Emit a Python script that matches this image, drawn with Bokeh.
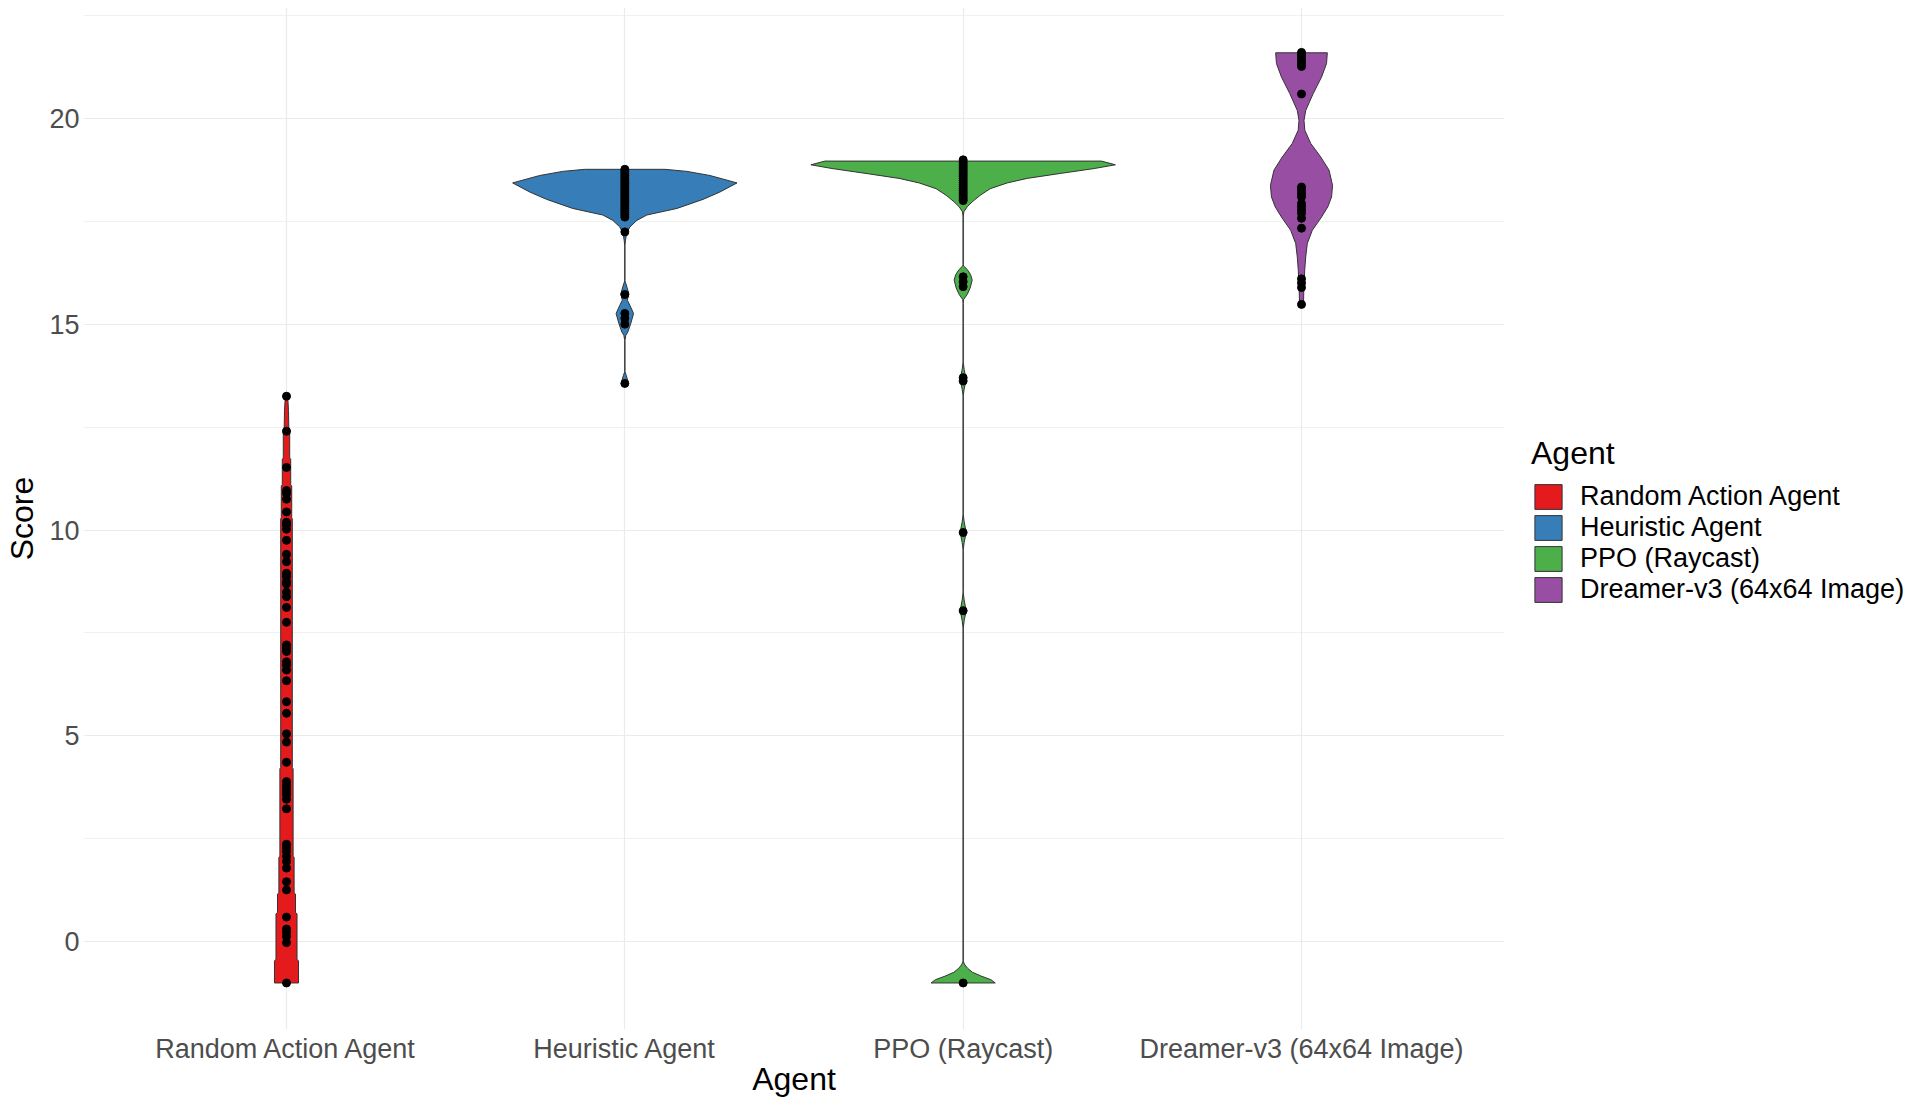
from bokeh.plotting import figure
from bokeh.models import FixedTicker, SingleIntervalTicker, Legend, LegendItem, Range1d
from bokeh.embed import file_html
from bokeh.resources import INLINE

agents = ["Random Action Agent", "Heuristic Agent", "PPO (Raycast)", "Dreamer-v3 (64x64 Image)"]
colors = ["#E41A1C", "#377EB8", "#4DAF4A", "#984EA3"]

# Violin outlines: score levels (top -> bottom) and relative density width
random_levels = [13.25, 12.90, 12.48, 12.45, 11.75, 11.72, 11.10, 11.07, 10.30, 10.27, 4.23, 4.20,
                 2.08, 2.05, 1.19, 1.16, 0.71, 0.68, -0.43, -0.46, -1.00]
random_density = [1.2, 2.0, 2.3, 3.2, 3.2, 4.2, 4.2, 5.2, 5.2, 5.8, 5.8, 6.6,
                  6.6, 7.6, 7.6, 9.0, 9.0, 10.5, 10.5, 12.0, 12.0]

heuristic_levels = [18.76, 18.71, 18.61, 18.43, 18.21, 18.03, 17.81, 17.65, 17.52, 17.36, 17.20, 17.04,
                    16.90, 16.05, 15.99, 15.74, 15.58, 15.46, 15.26, 15.02, 14.81, 14.73, 14.60,
                    13.85, 13.75, 13.62, 13.56]
heuristic_density = [40, 62, 85, 112, 95, 78, 52, 22, 12, 5, 1.7, 0.7,
                     0, 0, 1, 4, 2.5, 5, 8.7, 6, 3, 1, 0,
                     0, 1.5, 3, 3.5]

ppo_levels = [18.96, 18.87, 18.78, 18.66, 18.54, 18.43, 18.29, 18.13, 17.97, 17.85, 17.73, 17.60,
              16.45, 16.41, 16.33, 16.20, 16.07, 15.88, 15.72, 15.60, 15.50,
              14.10, 13.90, 13.66, 13.42, 13.25,
              10.40, 10.20, 9.94, 9.70, 9.50,
              8.50, 8.30, 8.04, 7.80, 7.60,
              -0.45, -0.49, -0.56, -0.64, -0.74, -0.83, -0.92, -1.00]
ppo_density = [138, 152, 131, 97, 64, 44, 27, 17, 9, 4, 0.7, 0,
               0, 0.5, 4, 7.5, 9, 7, 4, 0.5, 0,
               0, 1, 3, 1, 0,
               0, 1, 3, 1, 0,
               0, 1, 3, 1, 0,
               0, 0.3, 1.7, 4.3, 9.3, 17.7, 27.7, 32]

dreamer_levels = [21.59, 21.33, 21.00, 20.60, 20.19, 19.95, 19.71, 19.39, 19.06, 18.74, 18.37, 18.09,
                  17.85, 17.60, 17.28, 16.96, 16.63, 16.31, 15.83, 15.50, 15.46]
dreamer_density = [25.8, 25.0, 20.0, 11.7, 4.2, 2.5, 3.3, 9.2, 19.2, 27.5, 31.0, 30.0,
                   26.3, 20.0, 10.8, 5.8, 4.2, 3.2, 2.3, 2.0, 2.0]

# Individual scores (points)
random_scores = [13.25, 12.40, 11.52, 10.96, 10.89, 10.75, 10.44, 10.19, 10.12, 10.02, 9.75, 9.41,
                 9.23, 8.95, 8.87, 8.75, 8.69, 8.49, 8.38, 8.12, 7.76, 7.21, 7.13, 7.05, 6.80,
                 6.72, 6.60, 6.34, 5.83, 5.55, 5.05, 4.85, 4.36, 3.89, 3.81, 3.73, 3.65, 3.57,
                 3.46, 3.23, 2.37, 2.29, 2.19, 2.07, 1.95, 1.79, 1.46, 1.26, 0.60, 0.31, 0.23,
                 0.13, -0.02, -1.00]
heuristic_scores = [18.76, 18.71, 18.66, 18.61, 18.56, 18.51, 18.46, 18.41, 18.36, 18.31, 18.26,
                    18.21, 18.16, 18.11, 18.06, 18.01, 17.96, 17.91, 17.86, 17.81, 17.76, 17.71,
                    17.66, 17.60, 17.24, 15.72, 15.26, 15.14, 15.00, 13.56]
ppo_scores = [18.99, 18.94, 18.89, 18.84, 18.79, 18.74, 18.69, 18.64, 18.59, 18.54, 18.49, 18.44,
              18.39, 18.34, 18.29, 18.24, 18.19, 18.14, 18.09, 18.04, 18.00, 16.15, 16.03, 15.91,
              13.70, 13.62, 9.94, 8.04, -1.00]
dreamer_scores = [21.60, 21.55, 21.49, 21.41, 21.33, 21.26, 20.59, 18.33, 18.25, 18.17, 18.09,
                  17.93, 17.85, 17.77, 17.69, 17.57, 17.33, 16.10, 16.00, 15.89, 15.48]

levels_all = [random_levels, heuristic_levels, ppo_levels, dreamer_levels]
density_all = [random_density, heuristic_density, ppo_density, dreamer_density]
scores_all = [random_scores, heuristic_scores, ppo_scores, dreamer_scores]

FONT = "Liberation Sans"

p = figure(frame_width=1421, frame_height=1022, min_border_left=83, min_border_right=406,
           min_border_top=7, min_border_bottom=0,
           x_range=Range1d(0.4, 4.6), y_range=Range1d(-2.13, 22.69),
           output_backend="svg", toolbar_location=None)
p.outline_line_color = None
p.background_fill_color = "white"

# scale="area": widest violin spans 0.9 of a category
max_d = max(max(d) for d in density_all)
scale = 0.45 / max_d

renderers = []
for i, (lv, dn, col) in enumerate(zip(levels_all, density_all, colors)):
    c = i + 1
    xs = [c - d * scale for d in dn] + [c + d * scale for d in dn[::-1]]
    ys = list(lv) + list(lv[::-1])
    r = p.patch(xs, ys, fill_color=col, line_color="#333333", line_width=1)
    renderers.append(r)

for i, sc in enumerate(scores_all):
    p.scatter([i + 1] * len(sc), sc, size=8, color="black")

# axes
p.xaxis.ticker = FixedTicker(ticks=list(range(1, len(agents) + 1)))
p.xaxis.major_label_overrides = {i + 1: a for i, a in enumerate(agents)}
p.yaxis.ticker = SingleIntervalTicker(interval=5, num_minor_ticks=2)
for ax in (p.xaxis, p.yaxis):
    ax.axis_line_color = None
    ax.major_tick_line_color = None
    ax.minor_tick_line_color = None
    ax.major_tick_out = 0
    ax.minor_tick_out = 0
    ax.major_label_text_font = FONT
    ax.major_label_text_font_size = "27px"
    ax.major_label_text_color = "#4D4D4D"
    ax.axis_label_text_font = FONT
    ax.axis_label_text_font_size = "32px"
    ax.axis_label_text_font_style = "normal"
    ax.axis_label_text_color = "black"
p.xaxis.axis_label = "Agent"
p.yaxis.axis_label = "Score"
p.xaxis.major_label_standoff = 4
p.xaxis.axis_label_standoff = -6
p.yaxis.major_label_standoff = 4
p.yaxis.axis_label_standoff = 6

p.xgrid.grid_line_color = "#EBEBEB"
p.xgrid.grid_line_width = 1.2
p.ygrid.grid_line_color = "#EBEBEB"
p.ygrid.grid_line_width = 1.2
p.ygrid.minor_grid_line_color = "#EBEBEB"
p.ygrid.minor_grid_line_width = 0.7

legend = Legend(items=[LegendItem(label=a, renderers=[r]) for a, r in zip(agents, renderers)],
                location=(27, 424), title="Agent")
legend.title_text_font = FONT
legend.title_text_font_size = "32px"
legend.title_text_font_style = "normal"
legend.title_text_color = "black"
legend.title_standoff = 9
legend.label_text_font = FONT
legend.label_text_font_size = "27px"
legend.label_text_color = "black"
legend.glyph_width = 34
legend.glyph_height = 31
legend.label_height = 31
legend.label_standoff = 15
legend.spacing = 0
legend.padding = 0
legend.margin = 0
legend.border_line_color = None
legend.background_fill_alpha = 0
p.add_layout(legend, "right")

open("out.html", "w").write(file_html(p, INLINE))
